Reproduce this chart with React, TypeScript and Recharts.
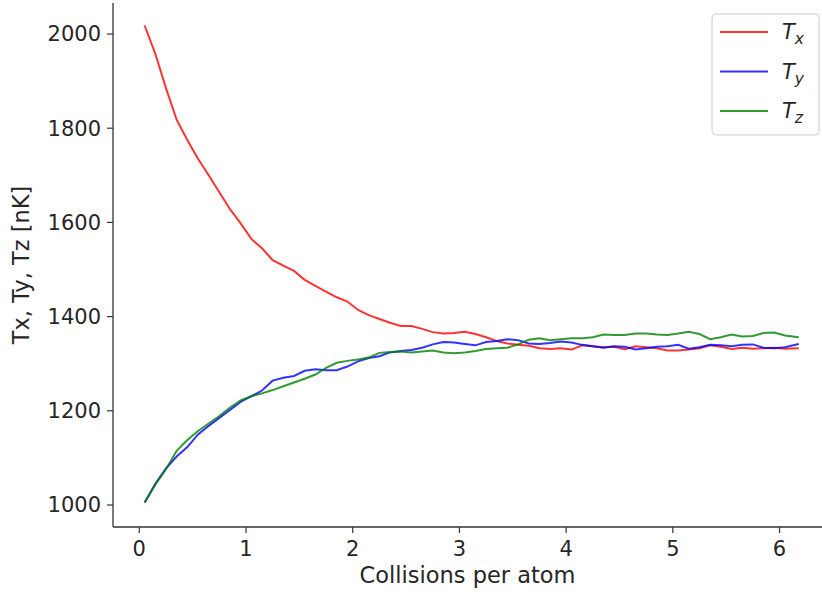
import React from 'react';
import { LineChart, Line, XAxis, YAxis } from 'recharts';

const xValues = [
  0.05, 0.15, 0.25, 0.35, 0.45, 0.55, 0.65, 0.75, 0.85, 0.95,
  1.05, 1.15, 1.25, 1.35, 1.45, 1.55, 1.65, 1.75, 1.85, 1.95,
  2.05, 2.15, 2.25, 2.35, 2.45, 2.55, 2.65, 2.75, 2.85, 2.95,
  3.05, 3.15, 3.25, 3.35, 3.45, 3.55, 3.65, 3.75, 3.85, 3.95,
  4.05, 4.15, 4.25, 4.35, 4.45, 4.55, 4.65, 4.75, 4.85, 4.95,
  5.05, 5.15, 5.25, 5.35, 5.45, 5.55, 5.65, 5.75, 5.85, 5.95,
  6.05, 6.18,
];

const txValues = [
  2018, 1958, 1885, 1818, 1775, 1735, 1700, 1664, 1628, 1598,
  1565, 1545, 1520, 1508, 1497, 1478, 1465, 1453, 1441, 1432,
  1414, 1403, 1395, 1387, 1380, 1380, 1374, 1367, 1364, 1365,
  1368, 1363, 1356, 1348, 1343, 1340, 1338, 1333, 1331, 1333,
  1330, 1339, 1337, 1335, 1336, 1331, 1337, 1335, 1333, 1328,
  1328, 1330, 1333, 1339, 1336, 1331, 1334, 1332, 1333, 1334,
  1332, 1333,
];

const tyValues = [
  1005, 1045, 1078, 1103, 1123, 1150, 1168, 1185, 1202, 1219,
  1231, 1243, 1264, 1270, 1274, 1285, 1288, 1286, 1286, 1294,
  1305, 1312, 1316, 1324, 1327, 1329, 1334, 1341, 1346, 1345,
  1342, 1339, 1346, 1348, 1352, 1350, 1343, 1342, 1344, 1347,
  1345, 1340, 1337, 1334, 1337, 1336, 1330, 1333, 1336, 1337,
  1340, 1332, 1335, 1340, 1339, 1337, 1340, 1341, 1334, 1333,
  1335, 1342,
];

const tzValues = [
  1006, 1043, 1076, 1115, 1138, 1157, 1173, 1189, 1207, 1222,
  1231, 1237, 1244, 1252, 1260, 1268, 1277, 1291, 1302, 1306,
  1309, 1313, 1323, 1325, 1326, 1324, 1326, 1328, 1324, 1322,
  1324, 1327, 1331, 1333, 1334, 1341, 1351, 1354, 1350, 1352,
  1354, 1354, 1356, 1362, 1361, 1361, 1364, 1364, 1362, 1361,
  1364, 1368, 1363, 1352, 1356, 1362, 1358, 1359, 1365, 1366,
  1360, 1356,
];

const xTicks = [0, 1, 2, 3, 4, 5, 6];
const yTicks = [1000, 1200, 1400, 1600, 1800, 2000];

const seriesKeys = ['tx', 'ty', 'tz'];
const seriesSubs = ['x', 'y', 'z'];
const seriesColors = ['#ff0000', '#0000ff', '#008000'];

const xLabel = 'Collisions per atom';
const yLabel = 'Tx, Ty, Tz [nK]';

const data = xValues.map((x, i) => ({
  x,
  tx: txValues[i],
  ty: tyValues[i],
  tz: tzValues[i],
}));

const FONT = '"DejaVu Sans", sans-serif';
const TEXT = '#262626';
const SPINE = '#333333';
const TICK_FS = 21;
const LABEL_FS = 22.5;

const YLabel = (props: any) => {
  const vb = props.viewBox || {};
  const cx = 29;
  const cy = vb.y + vb.height / 2;
  return (
    <text
      x={cx}
      y={cy}
      transform={`rotate(-90, ${cx}, ${cy})`}
      textAnchor="middle"
      fontFamily={FONT}
      fontSize={LABEL_FS}
      fill={TEXT}
    >
      {yLabel}
    </text>
  );
};

const XLabel = (props: any) => {
  const vb = props.viewBox || {};
  const cx = vb.x + vb.width / 2;
  return (
    <text x={cx} y={583} textAnchor="middle" fontFamily={FONT} fontSize={LABEL_FS} fill={TEXT}>
      {xLabel}
    </text>
  );
};

const LegendBox = () => (
  <svg width={110} height={124} style={{ position: 'absolute', left: 711, top: 13 }}>
    <rect x={1} y={1} width={107} height={121} rx={4} ry={4} fill="#ffffff" fillOpacity={0.8} stroke="#cccccc" strokeWidth={1} />
    {seriesKeys.map((k, i) => {
      const y = 19 + i * 39.5;
      return (
        <g key={k}>
          <line x1={9} x2={57} y1={y} y2={y} stroke={seriesColors[i]} strokeOpacity={0.8} strokeWidth={2} />
          <text x={71} y={y + 7} fontFamily={FONT} fontSize={21} fontStyle="italic" fill={TEXT}>
            T
            <tspan fontSize={15.5} dy={5}>{seriesSubs[i]}</tspan>
          </text>
        </g>
      );
    })}
  </svg>
);

export default function App() {
  return (
    <div style={{ position: 'fixed', left: 0, top: 0, width: 822, height: 594, background: '#fff' }}>
      <LineChart
        width={822}
        height={594}
        data={data}
        margin={{ top: 3, right: 0, bottom: 0, left: 0 }}
      >
        <XAxis
          dataKey="x"
          type="number"
          domain={[-0.2465, 6.398]}
          allowDataOverflow
          ticks={xTicks}
          height={67}
          tickSize={6}
          tickMargin={8}
          stroke={SPINE}
          axisLine={{ stroke: SPINE, strokeWidth: 1.3 }}
          tickLine={{ stroke: SPINE, strokeWidth: 1.2 }}
          tick={{ fill: TEXT, fontFamily: FONT, fontSize: TICK_FS }}
          label={<XLabel />}
        />
        <XAxis
          xAxisId="top"
          dataKey="x"
          type="number"
          orientation="top"
          domain={[-0.2465, 6.398]}
          allowDataOverflow
          height={0}
          tick={false}
          tickLine={false}
          axisLine={{ stroke: SPINE, strokeWidth: 1.3 }}
        />
        <YAxis
          type="number"
          domain={[953.3, 2065.8]}
          allowDataOverflow
          ticks={yTicks}
          width={113}
          tickSize={6}
          tickMargin={6}
          axisLine={{ stroke: SPINE, strokeWidth: 1.3 }}
          tickLine={{ stroke: SPINE, strokeWidth: 1.2 }}
          tick={{ fill: TEXT, fontFamily: FONT, fontSize: TICK_FS }}
          label={<YLabel />}
        />
        {seriesKeys.map((k, i) => (
          <Line
            key={k}
            dataKey={k}
            type="linear"
            stroke={seriesColors[i]}
            strokeOpacity={0.8}
            strokeWidth={2}
            dot={false}
            isAnimationActive={false}
          />
        ))}
      </LineChart>
      <LegendBox />
    </div>
  );
}
